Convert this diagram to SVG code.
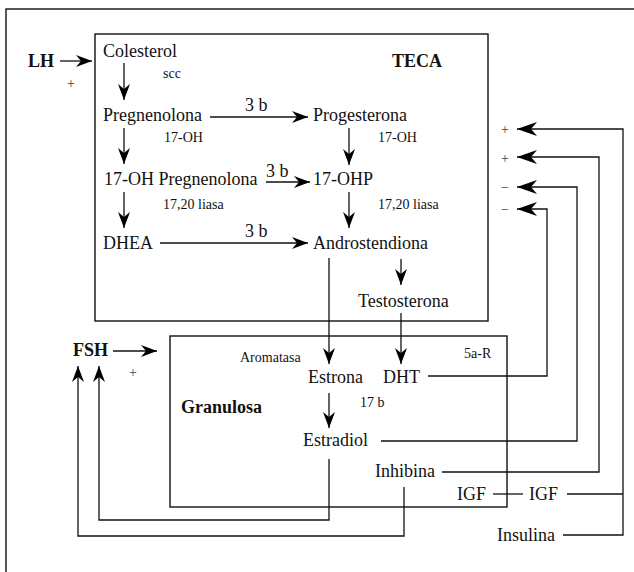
<svg xmlns="http://www.w3.org/2000/svg" width="634" height="572" viewBox="0 0 634 572">
  <style>
    text { font-family: "Liberation Serif", "Times New Roman", serif; fill: #111; }
    .m { font-size: 18px; }
    .s { font-size: 14px; }
    .b { font-size: 18px; font-weight: bold; }
    .sign { font-size: 14px; fill: #444; }
    .box { fill: none; stroke: #111; stroke-width: 1.4; }
    .ln { fill: none; stroke: #111; stroke-width: 1.3; }
    .a { marker-end: url(#ah); }
    .al { marker-end: url(#ahl); }
  </style>
  <defs>
    <marker id="ah" markerUnits="userSpaceOnUse" markerWidth="18" markerHeight="14" viewBox="-17 -7 18 14" refX="0" refY="0" orient="auto">
      <path d="M0,0 L-16,-6 L-11,0 L-16,6 Z" fill="#000"/>
    </marker>
    <marker id="ahl" markerUnits="userSpaceOnUse" markerWidth="22" markerHeight="16" viewBox="-21 -8 22 16" refX="0" refY="0" orient="auto">
      <path d="M0,0 L-20,-7 L-14,0 L-20,7 Z" fill="#000"/>
    </marker>
  </defs>

  <!-- frame and compartments -->
  <rect class="box" x="6" y="9" width="650" height="600"/>
  <g id="teca">
    <rect class="box" x="95" y="34" width="393" height="287"/>
    <text class="b" x="392" y="67">TECA</text>
  </g>
  <g id="granulosa">
    <rect class="box" x="170" y="336" width="337" height="171"/>
    <text class="b" x="181" y="413">Granulosa</text>
  </g>

  <!-- connectors -->
  <g id="connectors">
    <path class="ln a" d="M60,61 H92"/>
    <path class="ln a" d="M113,351 H157"/>
    <path class="ln a" d="M124,63 V100"/>
    <path class="ln a" d="M124,128 V164"/>
    <path class="ln a" d="M124,192 V228"/>
    <path class="ln a" d="M210,117 H308"/>
    <path class="ln a" d="M266,182 H310"/>
    <path class="ln a" d="M160,243 H308"/>
    <path class="ln a" d="M349,128 V165"/>
    <path class="ln a" d="M349,192 V228"/>
    <path class="ln a" d="M401,259 V285"/>
    <path class="ln a" d="M329,258 V364"/>
    <path class="ln a" d="M401,313 V364"/>
    <path class="ln a" d="M329,393 V428"/>
    <path class="ln al" d="M428,376 H547 V209 H517"/>
    <path class="ln al" d="M381,441 H577 V187 H517"/>
    <path class="ln al" d="M442,472 H599 V157 H517"/>
    <path class="ln al" d="M563,535 H623 V129 H517"/>
    <path class="ln" d="M567,494 H623"/>
    <path class="ln" d="M493,494 H523"/>
    <path class="ln a" d="M329,459 V520 H99 V366"/>
    <path class="ln a" d="M404,487 V536 H78 V366"/>
  </g>

  <!-- hormones -->
  <g id="lh">
    <text class="b" x="28" y="67">LH</text>
    <text class="sign" x="67" y="88">+</text>
  </g>
  <g id="fsh">
    <text class="b" x="73" y="356">FSH</text>
    <text class="sign" x="129" y="377">+</text>
  </g>

  <!-- theca pathway -->
  <g id="colesterol"><text class="m" x="103" y="57">Colesterol</text><text class="s" x="163" y="78">scc</text></g>
  <g id="pregnenolona"><text class="m" x="103" y="121">Pregnenolona</text><text class="s" x="164" y="142">17-OH</text></g>
  <g id="oh-pregnenolona"><text class="m" x="104" y="185">17-OH Pregnenolona</text><text class="s" x="163" y="209">17,20 liasa</text></g>
  <g id="dhea"><text class="m" x="103" y="249">DHEA</text></g>
  <g id="progesterona"><text class="m" x="313" y="121">Progesterona</text><text class="s" x="378" y="142">17-OH</text></g>
  <g id="ohp"><text class="m" x="313" y="185">17-OHP</text><text class="s" x="378" y="209">17,20 liasa</text></g>
  <g id="androstendiona"><text class="m" x="313" y="249">Androstendiona</text></g>
  <g id="testosterona"><text class="m" x="358" y="307">Testosterona</text></g>
  <g id="enzymes">
    <text class="m" x="245" y="111">3 b</text>
    <text class="m" x="266" y="177">3 b</text>
    <text class="m" x="245" y="237">3 b</text>
  </g>

  <!-- granulosa pathway -->
  <g id="aromatasa"><text class="s" x="240" y="362">Aromatasa</text></g>
  <g id="estrona"><text class="m" x="308" y="383">Estrona</text><text class="s" x="360" y="407">17 b</text></g>
  <g id="dht"><text class="m" x="383" y="383">DHT</text><text class="s" x="464" y="358">5a-R</text></g>
  <g id="estradiol"><text class="m" x="303" y="446">Estradiol</text></g>
  <g id="inhibina"><text class="m" x="375" y="477">Inhibina</text></g>
  <g id="igf1"><text class="m" x="457" y="500">IGF</text></g>
  <g id="igf2"><text class="m" x="529" y="500">IGF</text></g>
  <g id="insulina"><text class="m" x="497" y="541">Insulina</text></g>

  <!-- feedback signs -->
  <g id="signs">
    <text class="sign" x="501" y="134">+</text>
    <text class="sign" x="501" y="163">+</text>
    <text class="sign" x="501" y="192">−</text>
    <text class="sign" x="501" y="214">−</text>
  </g>
</svg>
